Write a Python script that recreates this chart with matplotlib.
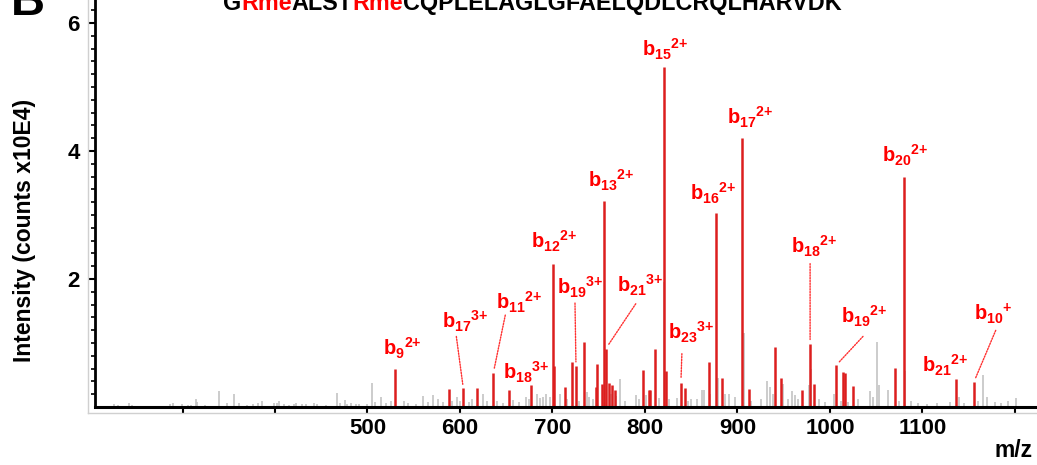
import matplotlib
matplotlib.use("Agg")
import matplotlib.pyplot as plt
from matplotlib.lines import Line2D

# peaks matched to b ions (red)
red_mz = [530.0, 588.4, 603.6, 618.2, 636.0, 653.0, 676.8, 700.4, 701.8, 713.5,
          720.7, 725.4, 734.4, 747.2, 748.1, 753.7, 756.2, 757.6, 760.8, 764.8,
          767.3, 797.6, 803.8, 805.0, 811.1, 820.3, 822.5, 838.8, 843.4, 868.7,
          876.9, 883.0, 905.4, 912.3, 941.0, 946.7, 969.4, 978.5, 982.2, 1006.5,
          1014.5, 1016.0, 1024.7, 1070.6, 1079.8, 1135.9, 1155.4]
red_int = [0.60, 0.28, 0.29, 0.29, 0.53, 0.27, 0.34, 2.23, 0.64, 0.31,
           0.71, 0.64, 1.02, 0.31, 0.67, 0.36, 3.22, 0.91, 0.38, 0.34,
           0.27, 0.58, 0.27, 0.26, 0.91, 5.32, 0.56, 0.38, 0.29, 0.70,
           3.03, 0.46, 4.21, 0.28, 0.94, 0.46, 0.27, 0.99, 0.36, 0.65,
           0.54, 0.53, 0.33, 0.61, 3.59, 0.43, 0.385]

# unassigned peaks (grey)
grey_mz = [226, 230.7, 242.5, 245, 286.5, 289.4, 299, 306, 309, 314.6, 316, 324,
           339.8, 347.7, 355.7, 361.5, 369.4, 376.6, 381.3, 385.6, 398.9, 401.7,
           404.3, 410, 415.6, 420.5, 423, 429, 433, 442.3, 445, 455, 466.7, 470.3,
           476, 478, 481.8, 488, 490.5, 500, 505.2, 508, 515, 520, 525, 540, 544,
           552, 560.3, 565, 571, 576, 582, 591, 597, 600, 610, 613, 625.2, 629,
           640, 646, 657.6, 664, 671, 675, 682.9, 686, 690, 693.5, 697, 708, 716,
           729, 737.6, 740, 744, 763, 769, 773, 778, 790, 794, 801, 815, 820.8,
           826, 835, 846, 850, 856, 861.3, 864, 870, 879.3, 887, 891, 897, 906.7,
           915, 925, 931.6, 935, 938, 949.5, 955, 958.9, 962, 965, 977, 979.5,
           988, 995, 1004, 1012, 1020, 1030, 1043.2, 1046, 1050.5, 1053, 1063,
           1075, 1081, 1088, 1095, 1105, 1116, 1130, 1140, 1145, 1160, 1165, 1170,
           1178, 1185, 1192, 1201]
grey_int = [0.04, 0.03, 0.06, 0.03, 0.05, 0.06, 0.04, 0.03, 0.03, 0.125, 0.08, 0.03,
            0.245, 0.06, 0.20, 0.07, 0.03, 0.04, 0.06, 0.09, 0.07, 0.06,
            0.09, 0.04, 0.03, 0.05, 0.06, 0.05, 0.04, 0.06, 0.05, 0.03, 0.22, 0.06,
            0.11, 0.05, 0.06, 0.05, 0.04, 0.04, 0.375, 0.08, 0.16, 0.07, 0.09, 0.10, 0.07,
            0.05, 0.17, 0.08, 0.18, 0.12, 0.08, 0.09, 0.16, 0.10, 0.08, 0.12, 0.21, 0.09,
            0.10, 0.07, 0.11, 0.08, 0.16, 0.12, 0.21, 0.14, 0.16, 0.21, 0.15, 0.21, 0.12,
            0.10, 0.24, 0.16, 0.12, 0.20, 0.17, 0.44, 0.10, 0.19, 0.12, 0.18, 0.14, 1.96,
            0.12, 0.14, 0.10, 0.13, 0.12, 0.27, 0.27, 0.20, 0.45, 0.20, 0.20, 0.16, 1.16,
            0.10, 0.12, 0.40, 0.32, 0.20, 0.36, 0.13, 0.25, 0.18, 0.12, 0.34, 0.60,
            0.12, 0.08, 0.20, 0.10, 0.08, 0.13, 0.25, 0.15, 1.02, 0.35, 0.27,
            0.10, 0.57, 0.10, 0.06, 0.05, 0.07, 0.08, 0.15, 0.06, 0.10, 0.50, 0.16,
            0.08, 0.06, 0.10, 0.135]

# annotations: ion name and the m/z of the peak it belongs to
ion_labels = [r"$b_{9}{}^{2{+}}$", r"$b_{17}{}^{3{+}}$", r"$b_{11}{}^{2{+}}$", r"$b_{18}{}^{3{+}}$",
              r"$b_{12}{}^{2{+}}$", r"$b_{19}{}^{3{+}}$", r"$b_{13}{}^{2{+}}$", r"$b_{21}{}^{3{+}}$",
              r"$b_{15}{}^{2{+}}$", r"$b_{23}{}^{3{+}}$", r"$b_{16}{}^{2{+}}$", r"$b_{17}{}^{2{+}}$",
              r"$b_{18}{}^{2{+}}$", r"$b_{19}{}^{2{+}}$", r"$b_{20}{}^{2{+}}$", r"$b_{21}{}^{2{+}}$",
              r"$b_{10}{}^{{+}}$"]
ion_mz = [530.0, 603.6, 636.0, 676.8, 700.4, 725.4, 756.2, 757.6, 820.3, 838.8,
          876.9, 905.4, 978.5, 1006.5, 1079.8, 1135.9, 1155.4]

# label offsets from peak top (pixels) and dotted leader start (or None)
label_off = [(-12, 13), (-21, 60), (3, 64), (-28, 6), (-22, 16), (-19, 72), (-16, 13),
             (11, 56), (-22, 10), (-13, 43), (-26, 13), (-15, 13), (-19, 90), (5, 42),
             (-22, 15), (-34, 7), (0, 62)]
leader_off = [None, (-7, 52), (12, 58), None, None, (-1, 63), None, (30, 45), None,
              (1, 29), None, None, (0, 80), (27, 29), None, None, (22, 52)]

title_parts = [("G", "black"), ("Rme", "#ff0000"), ("ALST", "black"), ("Rme", "#ff0000"),
               ("CQPLELAGLGFAELQDLCRQLHARVDK", "black")]

plt.rcParams['font.family'] = ['Liberation Sans', 'DejaVu Sans']
plt.rcParams['font.weight'] = 'bold'
plt.rcParams['mathtext.fontset'] = 'custom'
plt.rcParams['mathtext.rm'] = 'Liberation Sans:bold'
plt.rcParams['mathtext.it'] = 'Liberation Sans:bold'
plt.rcParams['mathtext.bf'] = 'Liberation Sans:bold'
plt.rcParams['mathtext.default'] = 'rm'

W, H = 1037, 465
fig = plt.figure(figsize=(W / 100, H / 100), dpi=100)
ax = fig.add_axes([95 / W, 58 / H, 1 - 95 / W, 1 - 58 / H])

ax.vlines(grey_mz, 0, grey_int, color="#c4c4c4", lw=1.2)
ax.vlines(red_mz, 0, red_int, color="#dc1e1e", lw=1.8)

red_lookup = dict(zip(red_mz, red_int))
for lab, mz, off, lead in zip(ion_labels, ion_mz, label_off, leader_off):
    top = red_lookup[mz]
    ax.annotate(lab, xy=(mz, top), xytext=off, textcoords="offset pixels",
                ha="left", va="baseline", color="#ff0000", fontsize=14.5)
    if lead is not None:
        ax.annotate("", xy=(mz, top), xytext=lead, textcoords="offset pixels",
                    arrowprops=dict(arrowstyle="-", color="#ff3030", lw=1.0,
                                    linestyle=(0, (1, 1)), shrinkA=0, shrinkB=3))

ax.set_xlim(205.4, 1223.8)
ax.set_ylim(0, 6.36)
ax.set_xticks(range(300, 1201, 100))
ax.set_xticklabels(["" if (v < 500 or v > 1100) else str(v) for v in range(300, 1201, 100)])
ax.set_yticks([2, 4, 6])
ax.set_yticks([i * 0.2 for i in range(32) if i % 10 != 0], minor=True)
ax.tick_params(axis="x", direction="out", length=5, width=1.5, pad=3, labelsize=16)
ax.tick_params(axis="y", which="major", direction="out", length=5, width=1.5, pad=6,
               labelsize=16)
ax.tick_params(axis="y", which="minor", direction="out", length=3, width=1.2)
for s in ("top", "right"):
    ax.spines[s].set_visible(False)
ax.spines["left"].set_linewidth(2)
ax.spines["bottom"].set_linewidth(2.2)
ax.patch.set_visible(False)

# light grey frame of the original software plot
fig.add_artist(Line2D([88 / W, 88 / W], [1, 1 - 413 / H], color="#d0d0d0", lw=1))
fig.add_artist(Line2D([88 / W, 1], [1 - 413 / H, 1 - 413 / H], color="#d0d0d0", lw=1))

fig.text(25 / W, 1 - 230 / H, "Intensity (counts x10E4)", rotation=90,
         ha="center", va="center", fontsize=16.5)
fig.text(1033 / W, 1 - 457 / H, "m/z", ha="right", va="baseline", fontsize=16.5)
fig.text(11 / W, 1 - 15 / H, "B", ha="left", va="baseline", fontsize=34)

# peptide sequence, methylated arginines in red, pieces chained on one baseline
prev = fig.text(223 / W, 1 - 10 / H, title_parts[0][0], color=title_parts[0][1],
                ha="left", va="baseline", fontsize=16.8)
for s, c in title_parts[1:]:
    prev = ax.annotate(s, xy=(1, 0), xycoords=prev, ha="left", va="bottom",
                       color=c, fontsize=16.8, annotation_clip=False)

fig.savefig("out.png", dpi=100)
